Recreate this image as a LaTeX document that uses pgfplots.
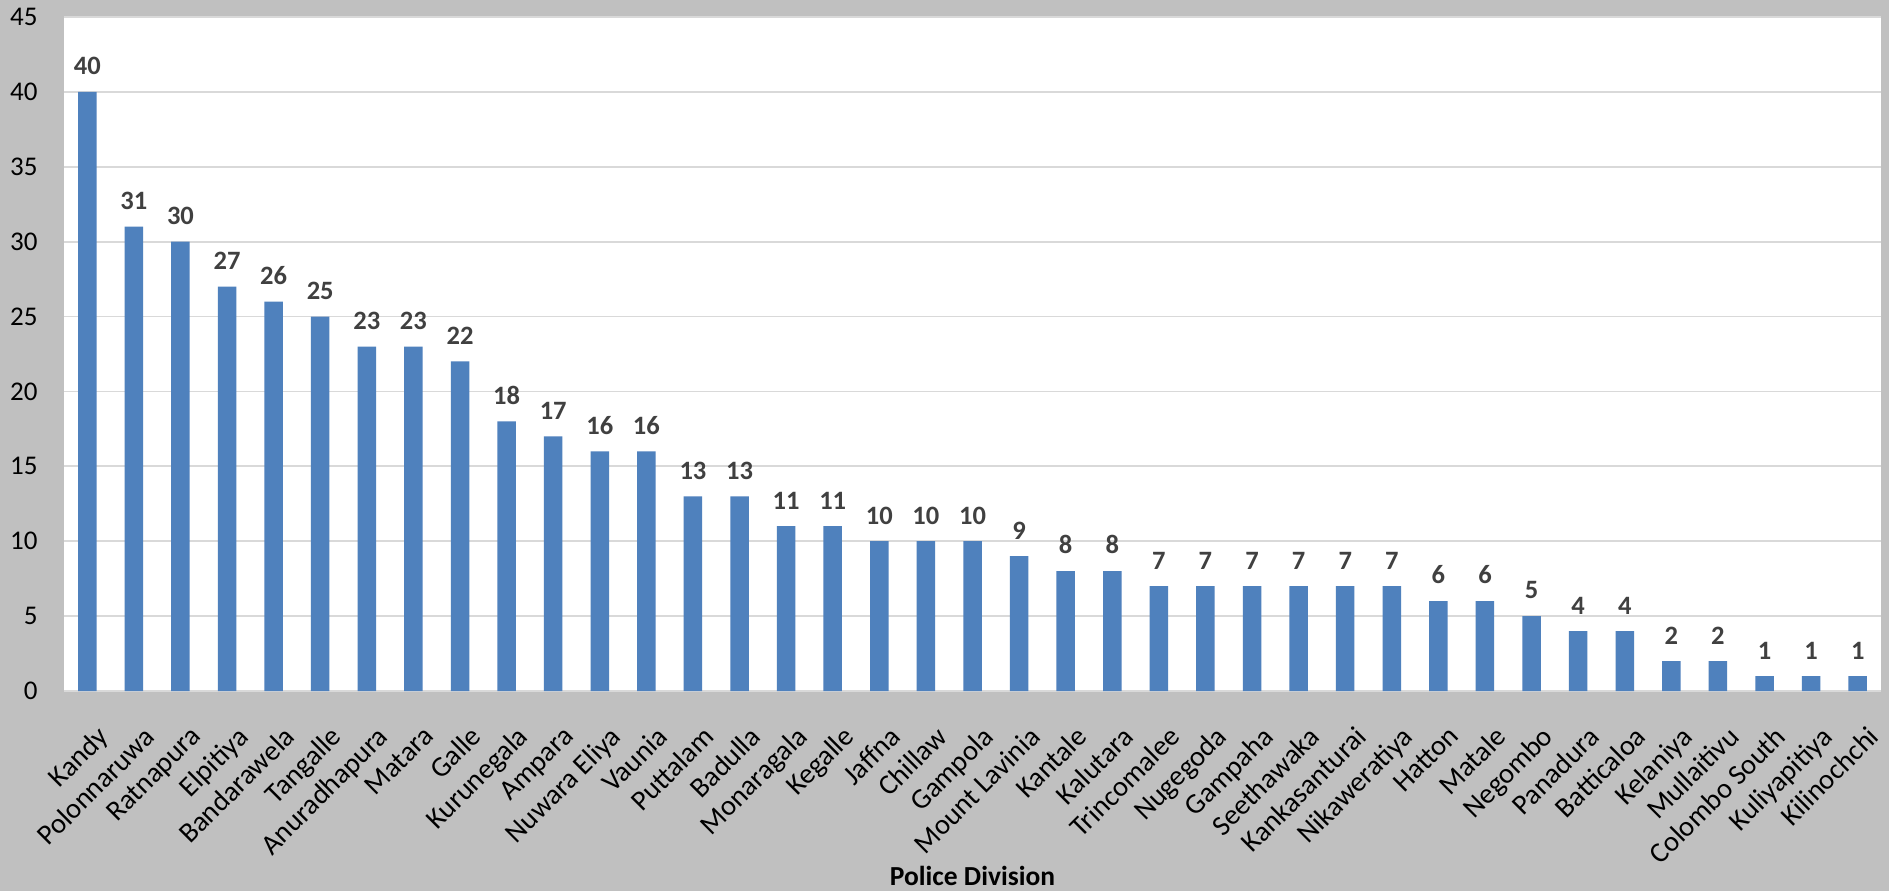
\documentclass[border=0pt]{standalone}
\usepackage{fontspec}
\setmainfont{Carlito}
\usepackage{pgfplots}
\pgfplotsset{compat=1.18}
\definecolor{bgray}{HTML}{C0C0C0}
\definecolor{barblue}{HTML}{4F81BD}
\definecolor{gridgray}{HTML}{D9D9D9}
\definecolor{lblgray}{HTML}{404040}
\begin{document}
\begin{tikzpicture}
\path[use as bounding box, fill=bgray] (0,0) rectangle (755.6pt,356.4pt);
\begin{axis}[
  at={(25.6pt,80pt)}, anchor=south west,
  scale only axis, width=726.8pt, height=269.6pt,
  ymin=0, ymax=45, ytick={0,5,...,45},
  xmin=-0.5, xmax=38.5,
  xtick=data,
  xticklabels={Kandy,Polonnaruwa,Ratnapura,Elpitiya,Bandarawela,Tangalle,Anuradhapura,Matara,Galle,Kurunegala,Ampara,Nuwara Eliya,Vaunia,Puttalam,Badulla,Monaragala,Kegalle,Jaffna,Chillaw,Gampola,Mount Lavinia,Kantale,Kalutara,Trincomalee,Nugegoda,Gampaha,Seethawaka,Kankasanturai,Nikaweratiya,Hatton,Matale,Negombo,Panadura,Batticaloa,Kelaniya,Mullaitivu,Colombo South,Kuliyapitiya,Kilinochchi},
  ybar, bar width=7.4pt,
  axis background/.style={fill=white},
  axis line style={draw=none},
  major tick length=0pt,
  tick style={draw=none},
  ymajorgrids, grid style={gridgray, line width=0.7pt},
  /pgf/number format/assume math mode=true,
  yticklabel style={font=\fontsize{10.8}{12}\selectfont, anchor=east, inner sep=0pt, xshift=-10.4pt},
  xticklabel style={font=\fontsize{11.4}{13}\selectfont, xshift=3.5pt, yshift=-13.2pt, rotate=45, anchor=north east, inner sep=0pt},
  xlabel={\textbf{Police Division}},
  xlabel style={font=\fontsize{11}{13}\selectfont, at={(axis description cs:0.5,-0.2745)}, anchor=center},
  nodes near coords,
  every node near coord/.append style={font=\bfseries\fontsize{10.6}{12}\selectfont, text=lblgray, anchor=south, inner sep=0pt, yshift=6.6pt},
  clip=false,
]
\addplot[fill=barblue, draw=none] coordinates {
(0,40) (1,31) (2,30) (3,27) (4,26) (5,25) (6,23) (7,23) (8,22) (9,18)
(10,17) (11,16) (12,16) (13,13) (14,13) (15,11) (16,11) (17,10) (18,10) (19,10)
(20,9) (21,8) (22,8) (23,7) (24,7) (25,7) (26,7) (27,7) (28,7) (29,6)
(30,6) (31,5) (32,4) (33,4) (34,2) (35,2) (36,1) (37,1) (38,1)
};
\end{axis}
\end{tikzpicture}
\end{document}
